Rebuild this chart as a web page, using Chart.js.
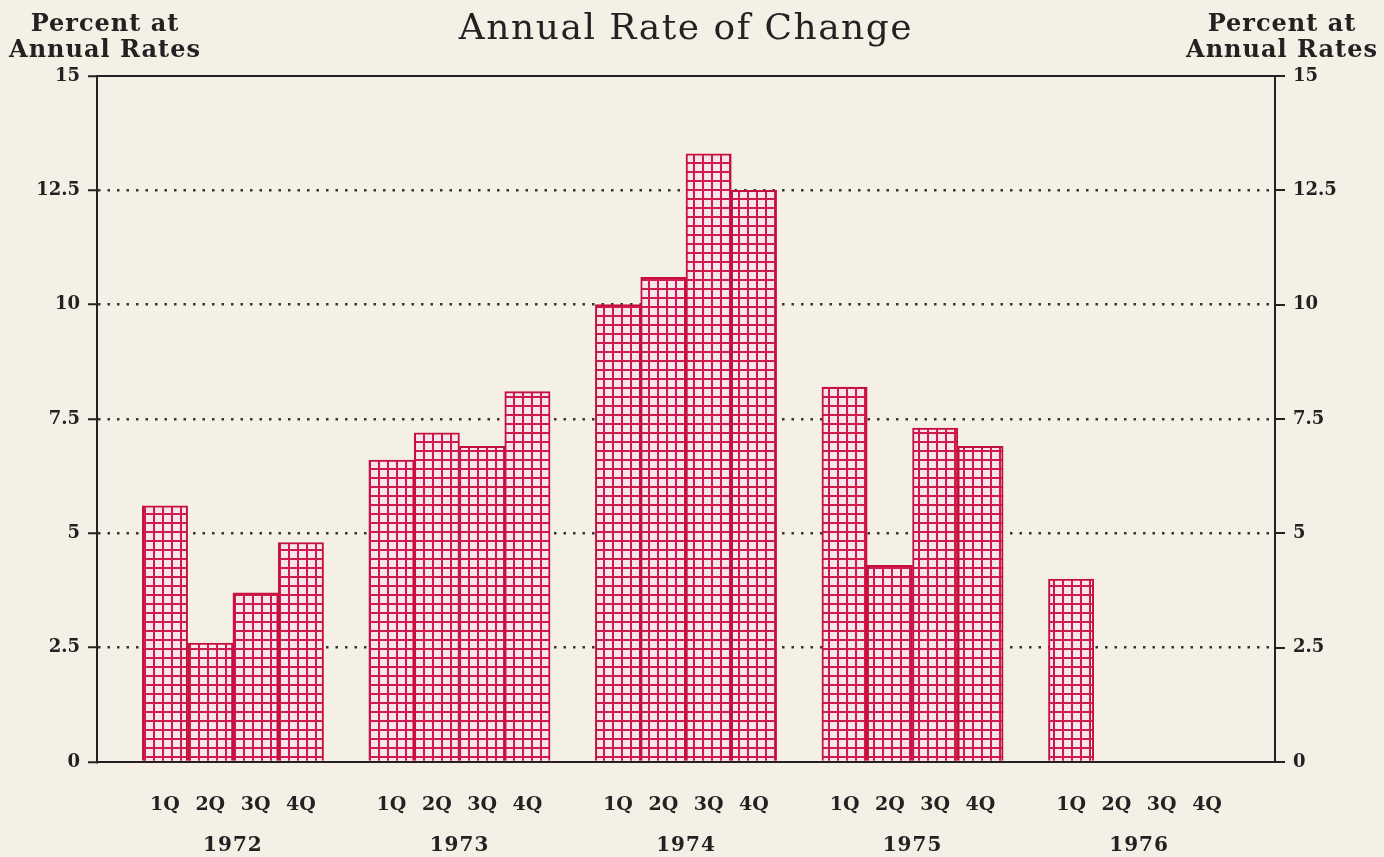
<!DOCTYPE html>
<html>
<head>
<meta charset="utf-8">
<title>Annual Rate of Change</title>
<script src="https://cdn.jsdelivr.net/npm/chart.js@4.4.1/dist/chart.umd.min.js"></script>
<style>
html, body { margin:0; padding:0; background:#f4f0e6; }
canvas { display:block; }
</style>
</head>
<body>
<canvas id="rateChart" width="1384" height="857"></canvas>
<script>
// values, percent at annual rates
const quarters = ['1Q','2Q','3Q','4Q'];
const years = ['1972','1973','1974','1975','1976'];
const rates1972 = [5.6, 2.6, 3.7, 4.8];
const rates1973 = [6.6, 7.2, 6.9, 8.1];
const rates1974 = [10.0, 10.6, 13.3, 12.5];
const rates1975 = [8.2, 4.3, 7.3, 6.9];
const rates1976 = [4.0, null, null, null];
const yTicks = [0, 2.5, 5, 7.5, 10, 12.5, 15];

const allRates = [rates1972, rates1973, rates1974, rates1975, rates1976];
const ink = '#272022';
const fontFam = '"DejaVu Serif", "Liberation Serif", serif';

// empty slot before each year group and after the last one
let labels = [''];
let values = [null];
years.forEach(function(y, i) {
	quarters.forEach(function(q, j) {
		labels.push(q);
		values.push(allRates[i][j]);
	});
	labels.push('');
	values.push(null);
});

// crosshatch fill like the printed bars
function hatch() {
	let c = document.createElement('canvas');
	c.width = 9; c.height = 9;
	let g = c.getContext('2d');
	g.fillStyle = '#f6e6eb';
	g.fillRect(0, 0, 9, 9);
	g.fillStyle = '#d01a4e';
	g.fillRect(0, 0, 2, 9);
	g.fillRect(0, 0, 9, 2);
	return g.createPattern(c, 'repeat');
}

const textBits = {
	id: 'textBits',
	afterDraw(chart) {
		let c = chart.ctx, a = chart.chartArea;
		c.save();
		c.fillStyle = ink;
		c.textAlign = 'center';
		c.textBaseline = 'alphabetic';

		// main title
		c.font = '36px ' + fontFam;
		c.letterSpacing = '1.5px';
		c.fillText('Annual Rate of Change', (a.left + a.right) / 2, 39);

		// unit labels over both axes
		c.font = 'bold 24px ' + fontFam;
		c.letterSpacing = '1px';
		[a.left + 8, a.right + 7].forEach(function(x) {
			c.fillText('Percent at', x, 31);
			c.fillText('Annual Rates', x, 57);
		});

		// year under each group of quarters
		let xs = chart.scales.x;
		c.font = 'bold 20px ' + fontFam;
		c.letterSpacing = '1px';
		c.textBaseline = 'middle';
		years.forEach(function(y, i) {
			let i2 = 2 + i * 5;
			let x = (xs.getPixelForValue(i2) + xs.getPixelForValue(i2 + 1)) / 2;
			c.fillText(y, x, a.bottom + 84);
		});
		c.restore();
	}
};

function fixTicks(scale) {
	scale.ticks = yTicks.map(function(v) { return { value: v }; });
}

let ctx = document.getElementById('rateChart').getContext('2d');
let chart = new Chart(ctx, {
	type: 'bar',
	data: {
		labels: labels,
		datasets: [{
			label: 'Annual rate of change',
			data: values,
			backgroundColor: hatch(),
			borderColor: '#c4103f',
			borderWidth: 2,
			borderSkipped: 'bottom',
			categoryPercentage: 1,
			barPercentage: 1
		}]
	},
	options: {
		responsive: false,
		animation: false,
		layout: { padding: { top: 76 } },
		plugins: {
			legend: { display: false },
			tooltip: { enabled: false },
			title: { display: false }
		},
		scales: {
			x: {
				grid: { display: false, drawTicks: false },
				border: { display: false },
				ticks: {
					color: ink,
					autoSkip: false,
					maxRotation: 0,
					padding: 32,
					font: { family: fontFam, size: 19, weight: 'bold' }
				},
				afterFit: function(s) { s.height = 95; }
			},
			y: {
				position: 'left',
				min: 0, max: 15,
				z: 1,
				afterBuildTicks: fixTicks,
				afterFit: function(s) { s.width = 97; },
				grid: {
					color: function(c) {
						let v = c.tick ? c.tick.value : 0;
						return (v === 0 || v === 15) ? 'rgba(0,0,0,0)' : '#3a3335';
					},
					lineWidth: 2.5,
					tickColor: ink,
					tickWidth: 2,
					tickLength: 9
				},
				border: { display: true, color: ink, width: 2, dash: [2.5, 7] },
				ticks: {
					color: ink,
					padding: 8,
					font: { family: fontFam, size: 18, weight: 'bold' },
					callback: function(v) { return String(v); }
				}
			},
			y2: {
				position: 'right',
				min: 0, max: 15,
				afterBuildTicks: fixTicks,
				afterFit: function(s) { s.width = 109; },
				grid: {
					color: function(c) {
						let v = c.tick ? c.tick.value : 0;
						return (v === 0 || v === 15) ? ink : 'rgba(0,0,0,0)';
					},
					lineWidth: 2,
					tickColor: ink,
					tickWidth: 2,
					tickLength: 10
				},
				border: { display: true, color: ink, width: 2 },
				ticks: {
					color: ink,
					padding: 8,
					font: { family: fontFam, size: 18, weight: 'bold' },
					callback: function(v) { return String(v); }
				}
			}
		}
	},
	plugins: [textBits]
});
</script>
</body>
</html>
